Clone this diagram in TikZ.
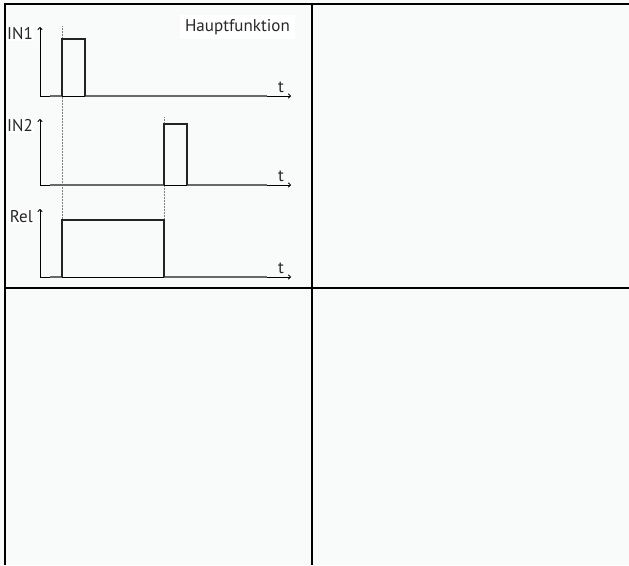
\documentclass[tikz,border=0pt]{standalone}
\usepackage{fontspec}
\setmainfont{PT Sans}
\usetikzlibrary{arrows.meta}
\definecolor{bgc}{RGB}{249,251,251}
\definecolor{txt}{RGB}{40,40,40}
\definecolor{sig}{RGB}{35,35,35}
\definecolor{basec}{RGB}{105,105,105}
\begin{document}
\begin{tikzpicture}[x=1pt,y=-1pt,
  frame/.style={line width=1.8pt,black},
  axis/.style={line width=0.8pt,black,-{To[length=3pt,width=5pt]}},
  sigline/.style={line width=1.8pt,sig,line join=miter},
  base/.style={line width=2.2pt,basec},
  marker/.style={line width=0.5pt,gray,densely dotted},
  lbl/.style={font=\fontsize{17}{19}\selectfont,text=txt,fill=white,inner sep=1pt},
  tlbl/.style={font=\fontsize{17}{19}\selectfont,text=txt,inner sep=0pt}]
\useasboundingbox (0,0) rectangle (629,565);
\fill[bgc] (0,0) rectangle (629,565);
% frame
\draw[frame] (5,565) -- (5,4) -- (629,4);
\draw[frame] (312,4) -- (312,565);
\draw[frame] (5,288) -- (629,288);
% title
\node[lbl,inner xsep=5pt,inner ysep=4pt,anchor=east] (title) at (295,27) {Hauptfunktion};
% dotted markers
\coordinate (m1t) at (62,26);
\coordinate (m1b) at (62,277);
\coordinate (m2t) at (164,117);
\coordinate (m2b) at (164,277);
\draw[marker] (m1t) -- (m1b);
\draw[marker] (m2t) -- (m2b);
% IN1
\coordinate (o1) at (40,96);
\draw[axis] (o1) -- (40,27);
\draw[axis] (o1) -- (291,96);
\draw[base] (50,96) -- (62,96);
\draw[base] (85,96) -- (267,96);
\draw[sigline] (62,96) -- (62,39) -- (85,39) -- (85,96);
\node[lbl,anchor=east] (in1) at (34,34) {IN1};
\node[tlbl,anchor=south] (t1) at (281,93) {t};
% IN2
\coordinate (o2) at (40,185);
\draw[axis] (o2) -- (40,119);
\draw[axis] (o2) -- (291,185);
\draw[base] (50,185) -- (164,185);
\draw[base] (187,185) -- (267,185);
\draw[sigline] (164,185) -- (164,124) -- (187,124) -- (187,185);
\node[lbl,anchor=east] (in2) at (34,126) {IN2};
\node[tlbl,anchor=south] (t2) at (281,182) {t};
% Rel
\coordinate (o3) at (40,277);
\draw[axis] (o3) -- (40,209);
\draw[axis] (o3) -- (291,277);
\draw[base] (50,277) -- (62,277);
\draw[base] (164,277) -- (267,277);
\draw[sigline] (62,277) -- (62,220) -- (164,220) -- (164,277);
\node[lbl,anchor=east] (rel) at (34,217) {Rel};
\node[tlbl,anchor=south] (t3) at (281,274) {t};
\end{tikzpicture}
\end{document}
